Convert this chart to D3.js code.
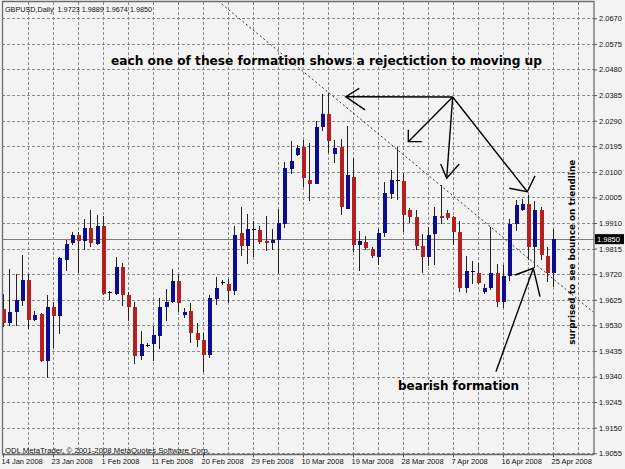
<!DOCTYPE html>
<html>
<head>
<meta charset="utf-8">
<script src="https://cdn.jsdelivr.net/npm/d3@7"></script>
<style>
  body { margin: 0; background: #f3f3f3; }
  svg { display: block; }
</style>
</head>
<body>
<svg id="chart" width="625" height="469"></svg>
<script>
// GBPUSD daily, 14 Jan 2008 .. 25 Apr 2008 (broker prints Sunday bars too)
const opens = [1.9590,1.9538,1.9579,1.9620,1.9699,1.9550,1.9573,1.9398,1.9600,1.9563,
  1.9773,1.9835,1.9866,1.9845,1.9891,1.9831,1.9899,1.9653,1.9647,1.9746,
  1.9641,1.9600,1.9418,1.9458,1.9461,1.9489,1.9598,1.9618,1.9693,1.9569,
  1.9584,1.9502,1.9476,1.9421,1.9629,1.9690,1.9682,1.9659,1.9873,1.9826,
  1.9888,1.9883,1.9843,1.9834,1.9846,1.9908,2.0112,2.0161,2.0191,2.0071,
  2.0055,2.0266,2.0315,2.0168,2.0191,1.9963,2.0081,1.9830,1.9840,1.9812,
  1.9785,1.9872,2.0018,2.0068,2.0067,1.9959,1.9934,1.9825,1.9783,1.9868,
  1.9936,1.9949,1.9931,1.9876,1.9669,1.9730,1.9724,1.9652,1.9668,1.9724,
  1.9618,1.9714,1.9907,1.9959,1.9981,1.9820,1.9959,1.9788,1.9723];
const highs = [1.9647,1.9740,1.9721,1.9792,1.9721,1.9584,1.9576,1.9643,1.9618,1.9785,
  1.9847,1.9876,1.9878,1.9925,1.9959,1.9940,1.9936,1.9656,1.9783,1.9761,
  1.9655,1.9618,1.9510,1.9466,1.9529,1.9631,1.9664,1.9739,1.9721,1.9596,
  1.9612,1.9539,1.9502,1.9644,1.9709,1.9697,1.9703,1.9898,1.9970,1.9944,
  1.9919,1.9898,1.9935,1.9886,1.9963,2.0137,2.0214,2.0201,2.0217,2.0207,
  2.0288,2.0389,2.0393,2.0220,2.0223,2.0269,2.0152,1.9880,1.9861,1.9820,
  1.9888,2.0064,2.0107,2.0191,2.0096,1.9965,1.9959,1.9871,1.9894,1.9971,
  2.0051,1.9959,1.9935,1.9918,1.9788,1.9769,1.9763,1.9684,1.9895,1.9758,
  1.9755,1.9924,1.9996,1.9998,2.0014,1.9992,1.9971,1.9822,1.9889];
const lows = [1.9524,1.9528,1.9526,1.9602,1.9517,1.9547,1.9395,1.9335,1.9447,1.9499,
  1.9733,1.9829,1.9726,1.9810,1.9822,1.9829,1.9643,1.9625,1.9643,1.9602,
  1.9548,1.9386,1.9402,1.9449,1.9399,1.9442,1.9548,1.9612,1.9578,1.9557,
  1.9466,1.9450,1.9355,1.9409,1.9605,1.9680,1.9614,1.9642,1.9787,1.9759,
  1.9783,1.9832,1.9805,1.9808,1.9719,1.9892,2.0093,2.0158,2.0044,1.9991,
  2.0053,2.0251,2.0170,2.0133,1.9939,1.9962,1.9803,1.9733,1.9811,1.9781,
  1.9755,1.9857,1.9998,1.9996,1.9878,1.9909,1.9810,1.9725,1.9751,1.9755,
  1.9908,1.9921,1.9829,1.9654,1.9649,1.9684,1.9684,1.9647,1.9662,1.9597,
  1.9595,1.9695,1.9881,1.9955,1.9773,1.9743,1.9773,1.9692,1.9674];
const closes = [1.9540,1.9578,1.9625,1.9699,1.9550,1.9569,1.9398,1.9600,1.9565,1.9779,
  1.9831,1.9866,1.9845,1.9891,1.9835,1.9899,1.9646,1.9652,1.9746,1.9643,
  1.9600,1.9418,1.9461,1.9457,1.9495,1.9600,1.9618,1.9695,1.9612,1.9579,
  1.9501,1.9476,1.9421,1.9632,1.9669,1.9689,1.9659,1.9867,1.9826,1.9889,
  1.9887,1.9840,1.9834,1.9848,1.9910,2.0114,2.0139,2.0189,2.0077,2.0053,
  2.0266,2.0315,2.0214,2.0189,1.9969,2.0087,1.9830,1.9843,1.9818,1.9786,
  1.9872,2.0021,2.0070,2.0066,1.9940,1.9933,1.9825,1.9783,1.9866,1.9936,
  1.9927,1.9928,1.9875,1.9669,1.9733,1.9729,1.9687,1.9668,1.9724,1.9618,
  1.9714,1.9907,1.9975,1.9981,1.9820,1.9957,1.9790,1.9723,1.9850];

// date label every 8 bars
const xTickLabels = ["14 Jan 2008","23 Jan 2008","1 Feb 2008","11 Feb 2008","20 Feb 2008",
  "29 Feb 2008","10 Mar 2008","19 Mar 2008","28 Mar 2008","7 Apr 2008","16 Apr 2008","25 Apr 2008"];
const yTicks = [2.0670,2.0575,2.0480,2.0385,2.0290,2.0195,2.0100,2.0005,1.9910,
  1.9815,1.9720,1.9625,1.9530,1.9435,1.9340,1.9245,1.9150,1.9055];
const lastPrice = 1.9850;
const titleText = "GBPUSD,Daily  1.9723 1.9889 1.9674 1.9850";
const footerText = "ODL MetaTrader, © 2001-2008 MetaQuotes Software Corp.";

// drawn objects, in [bar index, price]
const trendLine = [[35.0, 2.0723], [94.4, 1.9580]];
const arrows = [
  {shaft: [[71.95, 2.0378], [54.83, 2.0379]], head: [[57.0, 2.0410], [54.83, 2.0379], [57.92, 2.0330]]},
  {shaft: [[71.95, 2.0378], [64.85, 2.0212]], head: [[64.85, 2.0256], [64.85, 2.0212], [67.0, 2.0212]]},
  {shaft: [[71.95, 2.0378], [70.99, 2.0076]], head: [[70.03, 2.0129], [70.99, 2.0076], [73.0, 2.0129]]},
  {shaft: [[71.95, 2.0378], [83.89, 2.0026]], head: [[81.0, 2.0039], [83.89, 2.0026], [85.12, 2.0085]]},
  {shaft: [[78.88, 1.9359], [84.85, 1.9742]], head: [[81.92, 1.9717], [84.85, 1.9742], [85.92, 1.9637]]}
];
const notes = [
  {text: "each one of these formation shows a rejectiction to moving up", at: [17.28, 2.0497], size: 12, len: 431},
  {text: "bearish formation", at: [63.2, 1.9291], size: 12, len: 121},
  {text: "surprised to see bounce on trendline", at: [91.52, 1.9458], size: 9, len: 185, rotate: -90}
];

const svg = d3.select("#chart");
const plotLeft = 2, plotTop = 2, plotRight = 594, plotBottom = 454.5;
const smallFont = "'Liberation Sans', Arial, sans-serif";

const x = d3.scaleLinear().domain([0, 88]).range([3, 553]);
const y = d3.scaleLinear().domain([1.9055, 2.0670]).range([453.3, 18.3]);

svg.append("defs").append("clipPath").attr("id", "plot")
  .append("rect").attr("x", plotLeft).attr("y", plotTop)
  .attr("width", plotRight - plotLeft).attr("height", plotBottom - plotTop);

// grid
const grid = svg.append("g").attr("stroke", "#8c8c8c").attr("stroke-dasharray", "3,2")
  .attr("shape-rendering", "crispEdges");
grid.selectAll(".h").data(yTicks).enter().append("line")
  .attr("x1", plotLeft).attr("x2", plotRight)
  .attr("y1", d => Math.round(y(d)) + 0.5).attr("y2", d => Math.round(y(d)) + 0.5);
grid.selectAll(".v").data(d3.range(4, 93, 4)).enter().append("line")
  .attr("y1", plotTop).attr("y2", plotBottom)
  .attr("x1", d => Math.round(x(d)) + 0.5).attr("x2", d => Math.round(x(d)) + 0.5);

// last price line
svg.append("line")
  .attr("x1", plotLeft).attr("x2", plotRight)
  .attr("y1", Math.round(y(lastPrice)) + 0.5).attr("y2", Math.round(y(lastPrice)) + 0.5)
  .attr("stroke", "#7d7d7d").attr("shape-rendering", "crispEdges");

// candles
const bars = opens.map((o, i) => ({i, o, h: highs[i], l: lows[i], c: closes[i]}));
const plot = svg.append("g").attr("clip-path", "url(#plot)").attr("shape-rendering", "crispEdges");

const candle = plot.selectAll(".candle").data(bars).enter().append("g").attr("class", "candle");
candle.append("line")
  .attr("x1", d => Math.round(x(d.i)) + 0.5).attr("x2", d => Math.round(x(d.i)) + 0.5)
  .attr("y1", d => y(d.h)).attr("y2", d => y(d.l))
  .attr("stroke", "#222");
candle.append("rect")
  .attr("x", d => Math.round(x(d.i)) - 1.5)
  .attr("width", 4)
  .attr("y", d => y(Math.max(d.o, d.c)))
  .attr("height", d => Math.max(1, Math.abs(y(d.o) - y(d.c))))
  .attr("fill", d => {
    if (Math.abs(d.o - d.c) < 0.0003) return "#000";
    return d.c > d.o ? "#0c0c8e" : "#b41f1f";
  });

// trendline
const line = d3.line().x(d => x(d[0])).y(d => y(d[1]));
plot.append("path").attr("d", line(trendLine))
  .attr("fill", "none").attr("stroke", "#333").attr("stroke-dasharray", "2,2.5")
  .attr("shape-rendering", "auto");

// frame
svg.append("path")
  .attr("d", `M${plotRight},${plotBottom}H${plotLeft + 0.5}V${plotTop - 0.5}H${plotRight}V${plotBottom}`)
  .attr("fill", "none").attr("stroke", "#6e6e6e").attr("stroke-width", 1.3);

// price axis
const yAxis = svg.append("g").attr("transform", `translate(${plotRight},0)`)
  .call(d3.axisRight(y).tickValues(yTicks).tickFormat(d3.format(".4f")).tickSize(3).tickPadding(2));
yAxis.select(".domain").remove();
yAxis.selectAll("line").attr("stroke", "#555");
yAxis.selectAll("text").attr("font-family", smallFont).attr("font-size", 7.5).attr("fill", "#111");

// date axis
const xAxis = svg.append("g").attr("transform", `translate(0,${plotBottom})`)
  .call(d3.axisBottom(x).tickValues(d3.range(0, 89, 8))
    .tickFormat((d, k) => xTickLabels[k]).tickSize(3).tickPadding(2));
xAxis.select(".domain").remove();
xAxis.selectAll("line").attr("stroke", "#555");
xAxis.selectAll("text").attr("text-anchor", "start").attr("dx", -2).attr("dy", "0.6em")
  .attr("font-family", smallFont).attr("font-size", 7.5).attr("fill", "#111");

// last price tag
const tagY = y(lastPrice);
svg.append("rect").attr("x", plotRight + 1).attr("y", tagY - 5).attr("width", 29).attr("height", 10)
  .attr("fill", "#000");
svg.append("text").attr("x", plotRight + 3).attr("y", tagY + 2.8)
  .attr("font-family", smallFont).attr("font-size", 7.5).attr("fill", "#fff")
  .text(d3.format(".4f")(lastPrice));

// header and footer
svg.append("text").attr("x", 5).attr("y", 11.5)
  .attr("font-family", smallFont).attr("font-size", 7.5).attr("fill", "#111")
  .attr("textLength", 147).attr("lengthAdjust", "spacingAndGlyphs")
  .style("white-space", "pre").text(titleText);
svg.append("text").attr("x", 5).attr("y", 452.5)
  .attr("font-family", smallFont).attr("font-size", 7.5).attr("fill", "#111")
  .attr("textLength", 205).attr("lengthAdjust", "spacingAndGlyphs")
  .text(footerText);

// hand drawn arrows
const ann = svg.append("g").attr("fill", "none").attr("stroke", "#000")
  .attr("stroke-width", 1.4).attr("stroke-linejoin", "miter");
arrows.forEach(a => {
  ann.append("path").attr("d", line(a.shaft));
  ann.append("path").attr("d", line(a.head));
});

// notes
notes.forEach(n => {
  const t = svg.append("text")
    .attr("font-family", "'DejaVu Sans', Verdana, sans-serif")
    .attr("font-weight", "bold").attr("font-size", n.size).attr("fill", "#000")
    .attr("textLength", n.len).attr("lengthAdjust", "spacingAndGlyphs")
    .text(n.text);
  if (n.rotate) {
    t.attr("transform", `translate(${x(n.at[0])},${y(n.at[1])}) rotate(${n.rotate})`);
  } else {
    t.attr("x", x(n.at[0])).attr("y", y(n.at[1]));
  }
});
</script>
</body>
</html>
